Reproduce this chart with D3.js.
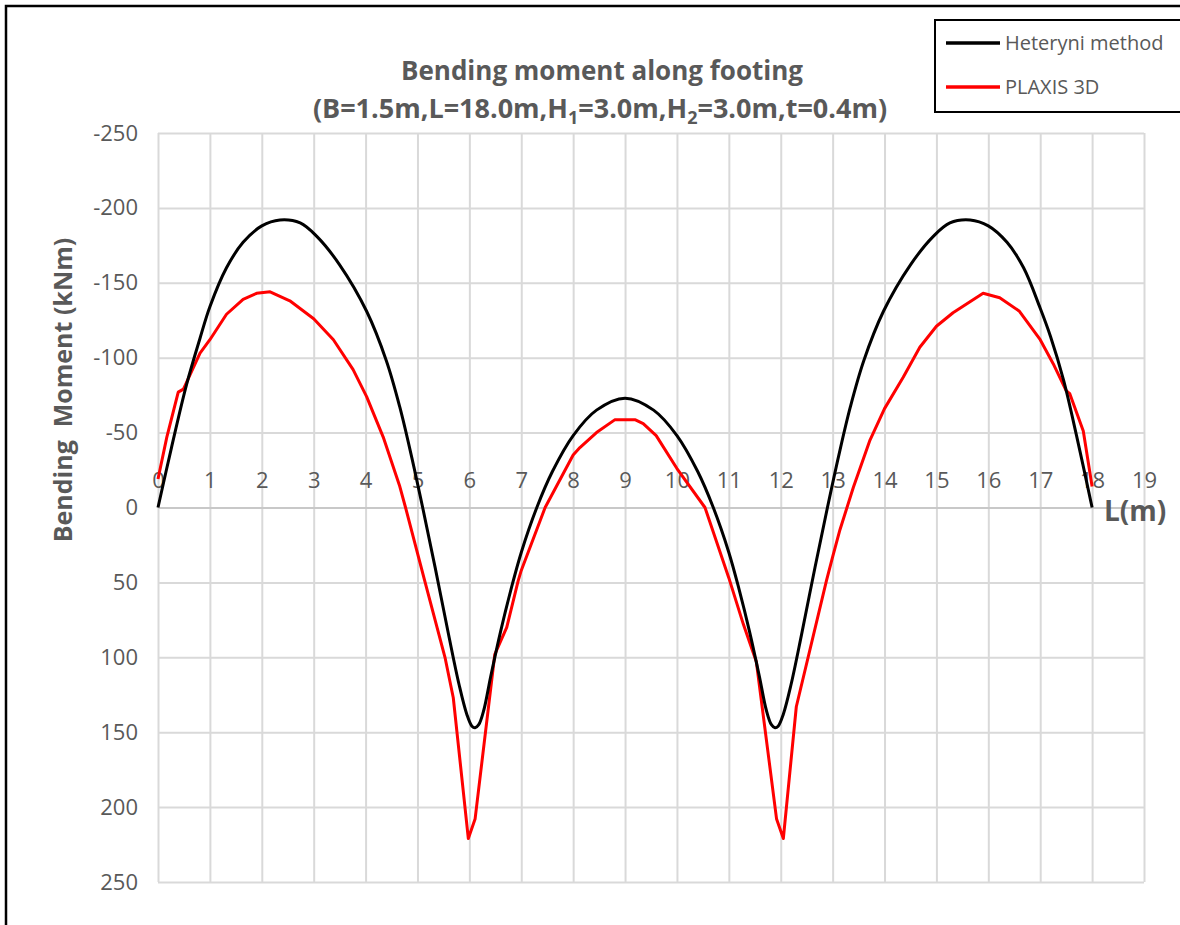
<!DOCTYPE html>
<html>
<head>
<meta charset="utf-8">
<script src="https://cdn.jsdelivr.net/npm/d3@7"></script>
<style>
  body { margin: 0; background: #fff; }
  svg { display: block; }
  text { font-family: "Open Sans", Lato, sans-serif; }
</style>
</head>
<body>
<svg id="chart" width="1180" height="925"></svg>
<script>
// ---- data ----
const xTicks = [0,1,2,3,4,5,6,7,8,9,10,11,12,13,14,15,16,17,18,19];
const yTicks = [-250,-200,-150,-100,-50,0,50,100,150,200,250];

const heteryniL = [0,0.26,0.55,0.81,1.0,1.32,1.64,2.0,2.35,2.74,3.06,3.5,4.02,4.4,4.66,4.88,5.1,5.34,5.6,5.8,5.95,6.05,6.11,6.18,6.28,6.41,6.6,6.8,7.0,7.3,7.6,8.0,8.45,9.0,9.55,10.0,10.4,10.7,11.0,11.2,11.4,11.59,11.72,11.82,11.89,11.95,12.05,12.2,12.4,12.66,12.9,13.12,13.34,13.6,13.98,14.5,14.94,15.26,15.65,16.0,16.36,16.68,17.0,17.2,17.45,17.7,18.0];
const heteryniM = [0,-40,-82,-113,-134,-160,-177,-188,-192,-190,-181,-162,-131,-98,-67,-35,0,40,85,118,138,146,147,145,135,113,83,55,30,0,-24,-48,-65,-73,-65,-48,-24,0,30,55,83,113,135,145,147,146,138,118,85,40,0,-35,-67,-98,-131,-162,-181,-190,-192,-188,-177,-160,-133,-114,-85,-48,0];

const plaxisL = [0,0.17,0.39,0.49,0.81,1.0,1.32,1.64,1.9,2.16,2.54,3.0,3.38,3.76,4.02,4.34,4.66,4.77,5.14,5.53,5.69,5.98,6.11,6.49,6.72,6.94,7.0,7.46,8.0,8.13,8.45,8.8,9.2,9.35,9.6,10.0,10.54,11.0,11.28,11.53,11.92,12.05,12.3,12.88,13.0,13.14,13.4,13.72,14.0,14.36,14.68,15.0,15.32,15.9,16.22,16.6,17.0,17.25,17.5,17.57,17.83,18.0];
const plaxisM = [-19,-47,-77,-79,-103,-112,-129,-139,-143,-144,-138,-126,-112,-92,-74,-47,-14,0,49,100,127,221,208,98,80,49,42,0,-35,-40,-50,-58.5,-58.5,-56,-48,-26,0,47,78,103,208,221,133,49,33,15,-13.5,-45,-66,-87,-107,-121,-130,-143,-140,-131,-112,-96,-78,-76,-51,-14];

const seriesNames = ["Heteryni method", "PLAXIS 3D"];
const seriesColors = ["#000000", "#ff0000"];

// ---- drawing ----
const svg = d3.select("#chart");
const x = d3.scaleLinear().domain([0, 19]).range([158, 1144]);
const y = d3.scaleLinear().domain([-250, 250]).range([133, 882]);
const gridColor = "#d9d9d9";
const textColor = "#595959";
const fontStack = "'Open Sans', Lato, sans-serif";

// outer frame (top & left edges visible)
svg.append("path").attr("d", "M6,925 L6,6 L1180,6").attr("fill", "none").attr("stroke", "#000").attr("stroke-width", 2.5);

// vertical gridlines
const gx = svg.append("g").attr("transform", `translate(0,${y(250)})`)
  .call(d3.axisBottom(x).tickValues(xTicks).tickSize(-(y(250) - y(-250))).tickFormat(""));
gx.select(".domain").remove();
gx.selectAll("line").attr("stroke", gridColor).attr("stroke-width", 2);

// horizontal gridlines + y labels
const gy = svg.append("g").attr("transform", `translate(${x(0)},0)`)
  .call(d3.axisLeft(y).tickValues(yTicks).tickSize(-(x(19) - x(0))).tickPadding(20).tickFormat(d => String(d)));
gy.select(".domain").remove();
gy.selectAll("line").attr("stroke", gridColor).attr("stroke-width", 2);
gy.selectAll("text").attr("fill", textColor).style("font-size", "22px").style("font-family", fontStack);

// x axis labels (above zero line)
const gxl = svg.append("g").attr("transform", `translate(0,${y(0)})`)
  .call(d3.axisTop(x).tickValues(xTicks).tickSize(0).tickPadding(20).tickFormat(d => String(d)));
gxl.select(".domain").attr("stroke", "#c8c8c8").attr("stroke-width", 2);
gxl.selectAll("text").attr("fill", textColor).style("font-size", "22px").style("font-family", fontStack);

// series
const blackData = heteryniL.map((l, i) => [l, heteryniM[i]]);
const redData = plaxisL.map((l, i) => [l, plaxisM[i]]);
svg.append("path").datum(redData)
  .attr("d", d3.line().x(d => x(d[0])).y(d => y(d[1])).curve(d3.curveLinear))
  .attr("fill", "none").attr("stroke", seriesColors[1]).attr("stroke-width", 3).attr("stroke-linejoin", "round");
svg.append("path").datum(blackData)
  .attr("d", d3.line().x(d => x(d[0])).y(d => y(d[1])).curve(d3.curveCatmullRom.alpha(0.5)))
  .attr("fill", "none").attr("stroke", seriesColors[0]).attr("stroke-width", 3).attr("stroke-linejoin", "round");

// title
svg.append("text").attr("x", 602).attr("y", 80).attr("text-anchor", "middle")
  .attr("fill", textColor).style("font-size", "26px").style("font-weight", "bold")
  .text("Bending moment along footing");
const sub = svg.append("text").attr("x", 600).attr("y", 118).attr("text-anchor", "middle")
  .attr("fill", textColor).style("font-size", "27px").style("font-weight", "bold");
sub.append("tspan").text("(B=1.5m,L=18.0m,H");
sub.append("tspan").attr("dy", 6).style("font-size", "18px").text("1");
sub.append("tspan").attr("dy", -6).text("=3.0m,H");
sub.append("tspan").attr("dy", 6).style("font-size", "18px").text("2");
sub.append("tspan").attr("dy", -6).text("=3.0m,t=0.4m)");

// y axis title
svg.append("text").attr("transform", `translate(72,390) rotate(-90)`).attr("text-anchor", "middle")
  .attr("fill", textColor).style("font-size", "25px").style("font-weight", "bold")
  .attr("xml:space", "preserve")
  .text("Bending  Moment (kNm)");

// x axis title
svg.append("text").attr("x", 1104).attr("y", 521).attr("fill", textColor)
  .style("font-size", "28px").style("font-weight", "bold").text("L(m)");

// legend
const lg = svg.append("g");
lg.append("rect").attr("x", 935).attr("y", 20).attr("width", 260).attr("height", 92)
  .attr("fill", "#fff").attr("stroke", "#000").attr("stroke-width", 2);
seriesNames.forEach((name, i) => {
  const yy = 43 + i * 44;
  lg.append("line").attr("x1", 946).attr("x2", 1000).attr("y1", yy).attr("y2", yy)
    .attr("stroke", seriesColors[i]).attr("stroke-width", 3.5);
  lg.append("text").attr("x", 1005).attr("y", yy + 7).attr("fill", textColor)
    .style("font-size", "20px").text(name);
});
</script>
</body>
</html>
